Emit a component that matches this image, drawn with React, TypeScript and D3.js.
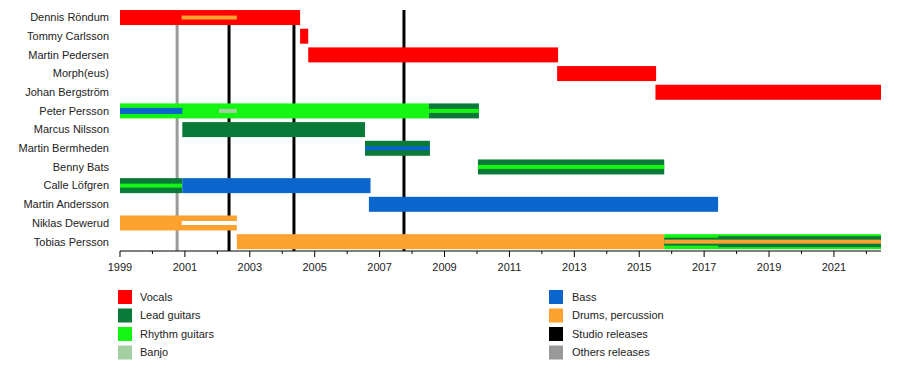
import React from 'react';
import * as d3 from 'd3';

const members = [
  'Dennis Röndum',
  'Tommy Carlsson',
  'Martin Pedersen',
  'Morph(eus)',
  'Johan Bergström',
  'Peter Persson',
  'Marcus Nilsson',
  'Martin Bermheden',
  'Benny Bats',
  'Calle Löfgren',
  'Martin Andersson',
  'Niklas Dewerud',
  'Tobias Persson',
];

// [member, role, from, to, kind] kind: main bar / wide inner / thin inner
const periods: [string, string, number, number, string][] = [
  ['Dennis Röndum', 'vocals', 1999, 2004.55, 'main'],
  ['Dennis Röndum', 'drums', 2000.9, 2002.6, 'thin'],
  ['Tommy Carlsson', 'vocals', 2004.55, 2004.8, 'main'],
  ['Martin Pedersen', 'vocals', 2004.8, 2012.5, 'main'],
  ['Morph(eus)', 'vocals', 2012.47, 2015.52, 'main'],
  ['Johan Bergström', 'vocals', 2015.5, 2022.45, 'main'],
  ['Peter Persson', 'rhythm', 1999, 2008.52, 'main'],
  ['Peter Persson', 'lead', 2008.52, 2010.06, 'main'],
  ['Peter Persson', 'rhythm', 2008.52, 2010.06, 'thin'],
  ['Peter Persson', 'bass', 1999, 2000.92, 'thick'],
  ['Peter Persson', 'banjo', 2002.05, 2002.6, 'thin'],
  ['Marcus Nilsson', 'lead', 2000.92, 2006.55, 'main'],
  ['Martin Bermheden', 'lead', 2006.55, 2008.55, 'main'],
  ['Martin Bermheden', 'bass', 2006.55, 2008.55, 'thin'],
  ['Benny Bats', 'lead', 2010.03, 2015.77, 'main'],
  ['Benny Bats', 'rhythm', 2010.03, 2015.77, 'thin'],
  ['Calle Löfgren', 'lead', 1999, 2000.92, 'main'],
  ['Calle Löfgren', 'rhythm', 1999, 2000.92, 'thin'],
  ['Calle Löfgren', 'bass', 2000.92, 2006.72, 'main'],
  ['Martin Andersson', 'bass', 2006.67, 2017.43, 'main'],
  ['Niklas Dewerud', 'drums', 1999, 2002.6, 'main'],
  ['Niklas Dewerud', 'blank', 2000.9, 2002.6, 'thin'],
  ['Tobias Persson', 'drums', 2002.6, 2015.77, 'main'],
  ['Tobias Persson', 'rhythm', 2015.77, 2022.45, 'main'],
  ['Tobias Persson', 'lead', 2015.77, 2017.43, 'wide'],
  ['Tobias Persson', 'lead', 2017.43, 2022.45, 'wider'],
  ['Tobias Persson', 'drums', 2015.77, 2022.45, 'thin'],
];

const studioReleases = [2002.36, 2004.36, 2007.75];
const otherReleases = [2000.76];

const legendLeft = [
  ['vocals', 'Vocals'],
  ['lead', 'Lead guitars'],
  ['rhythm', 'Rhythm guitars'],
  ['banjo', 'Banjo'],
];
const legendRight = [
  ['bass', 'Bass'],
  ['drums', 'Drums, percussion'],
  ['studio', 'Studio releases'],
  ['other', 'Others releases'],
];

const tickYears = d3.range(1999, 2023);

const colors: Record<string, string> = {
  vocals: '#ff0000',
  lead: '#0a7a38',
  rhythm: '#14f514',
  banjo: '#a3d0a0',
  bass: '#0a66cc',
  drums: '#fda22e',
  studio: '#000000',
  other: '#9a9a9a',
  blank: '#ffffff',
};

const heights: Record<string, number> = {
  main: 15,
  wider: 11,
  wide: 8,
  thick: 6,
  thin: 4,
};

const font = '"Liberation Sans", Arial, sans-serif';

export default function App() {
  const x = d3.scaleLinear().domain([1999, 2022.45]).range([120, 881]);
  const y = d3
    .scaleBand<string>()
    .domain(members)
    .range([8.2, 251])
    .paddingInner(0.2)
    .paddingOuter(0.1);
  const axisY = 251;

  return (
    <svg width={900} height={370} style={{ position: 'absolute', left: 0, top: 0, fontFamily: font }}>
      <rect width={900} height={370} fill="#fff" />

      {otherReleases.map((d) => (
        <line key={'o' + d} x1={x(d)} x2={x(d)} y1={10} y2={axisY} stroke={colors.other} strokeWidth={3} />
      ))}
      {studioReleases.map((d) => (
        <line key={'s' + d} x1={x(d)} x2={x(d)} y1={10} y2={axisY} stroke={colors.studio} strokeWidth={3} />
      ))}

      {periods.map(([m, role, a, b, kind], i) => {
        const h = heights[kind];
        const cy = (y(m) as number) + y.bandwidth() / 2;
        return (
          <rect
            key={i}
            x={x(a)}
            y={cy - h / 2}
            width={x(b) - x(a)}
            height={h}
            fill={colors[role]}
          />
        );
      })}

      {members.map((m) => (
        <text
          key={m}
          x={109}
          y={(y(m) as number) + y.bandwidth() / 2}
          dy="0.35em"
          textAnchor="end"
          fontSize={11}
          fill="#222"
        >
          {m}
        </text>
      ))}

      <line x1={x(1999)} x2={x(2022.45)} y1={axisY} y2={axisY} stroke="#000" strokeWidth={1} />
      {tickYears.map((t) => {
        const major = (t - 1999) % 2 === 0;
        return (
          <g key={t}>
            <line x1={x(t)} x2={x(t)} y1={axisY} y2={axisY + (major ? 6 : 3)} stroke="#000" />
            {major && (
              <text x={x(t)} y={axisY + 16} dy="0.35em" textAnchor="middle" fontSize={11} fill="#222">
                {t}
              </text>
            )}
          </g>
        );
      })}

      {legendLeft.map(([k, label], i) => (
        <g key={k} transform={`translate(118, ${290 + i * 18.5})`}>
          <rect width={14} height={14} fill={colors[k]} />
          <text x={22} y={7} dy="0.35em" fontSize={11} fill="#222">
            {label}
          </text>
        </g>
      ))}
      {legendRight.map(([k, label], i) => (
        <g key={k} transform={`translate(549, ${290 + i * 18.5})`}>
          <rect width={14} height={14} fill={colors[k]} />
          <text x={23} y={7} dy="0.35em" fontSize={11} fill="#222">
            {label}
          </text>
        </g>
      ))}
    </svg>
  );
}
